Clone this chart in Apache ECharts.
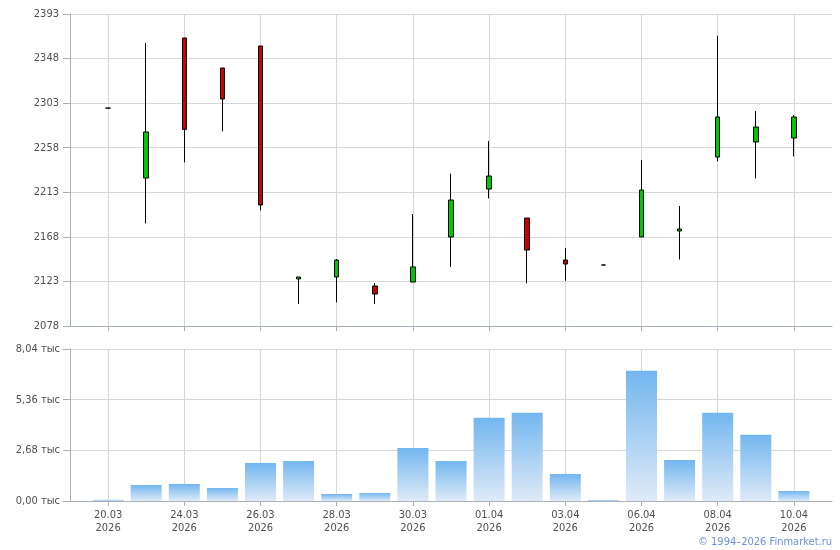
<!DOCTYPE html>
<html><head><meta charset="utf-8">
<script src="https://cdn.jsdelivr.net/npm/echarts@6/dist/echarts.min.js"></script>
<style>html,body{margin:0;padding:0;background:#fff}#c{width:840px;height:550px}</style>
</head><body><div id="c"></div>
<script>
const dates = ['20.03','23.03','24.03','25.03','26.03','27.03','28.03','29.03','30.03','31.03','01.04','02.04','03.04','04.04','06.04','07.04','08.04','09.04','10.04'];
const year = '2026';
const opens  = [2298,2227.4,2368.8,2338.5,2360.7,2125.5,2127.5,2118.4,2122.4,2167.9,2216.3,2187.0,2144.6,2139.6,2167.9,2173.9,2248.6,2263.8,2267.8];
const closes = [2298,2273.9,2276.5,2307.2,2200.2,2127.5,2144.6,2110.3,2137.6,2205.2,2229.4,2154.7,2140.6,2139.6,2215.3,2175.9,2289.0,2278.9,2289.0];
const lows   = [2298,2181.6,2243.2,2274.5,2194.7,2100.2,2101.8,2100.2,2122.4,2137.6,2206.8,2121.0,2123.7,2139.6,2167.9,2145.2,2244.2,2227.0,2249.2];
const highs  = [2298,2363.7,2368.8,2338.5,2360.7,2127.5,2145.6,2121.4,2191.1,2231.8,2264.8,2187.0,2156.7,2139.6,2245.6,2199.2,2371.1,2295.1,2291.0];
const volumes = [60,848,901,689,2014,2120,371,424,2809,2120,4399,4664,1431,53,6890,2173,4664,3498,530];
const priceTicks = [2078,2123,2168,2213,2258,2303,2348,2393];
const volumeTicks = [0,2680,5360,8040];

// pad one empty slot on each side
const cats = [''].concat(dates.map(d => d + '\n' + year), ['']);
const emptyCandle = ['-','-','-','-'];
const candleData = [emptyCandle].concat(dates.map((d, i) => [opens[i], closes[i], lows[i], highs[i]]), [emptyCandle]);
const volData = ['-'].concat(volumes, ['-']);

const font = '"DejaVu Sans Condensed", "DejaVu Sans", sans-serif';
const axisLineColor = '#a9b0b8';
const gridColor = '#d3d8de';
const labelColor = '#4f4f4f';
const oddIdx = (i) => i % 2 === 1;

const chart = echarts.init(document.getElementById('c'), null, {renderer: 'canvas'});
chart.setOption({
  animation: false,
  backgroundColor: '#fff',
  textStyle: {fontFamily: font},
  grid: [
    {left: 70, right: 8, top: 14, height: 312},
    {left: 70, right: 8, top: 349, height: 152}
  ],
  xAxis: [
    {type: 'category', gridIndex: 0, data: cats, boundaryGap: false,
     axisLine: {lineStyle: {color: axisLineColor}},
     axisTick: {show: true, interval: oddIdx, length: 5, lineStyle: {color: axisLineColor}},
     axisLabel: {show: false},
     splitLine: {show: true, interval: oddIdx, lineStyle: {color: gridColor}}},
    {type: 'category', gridIndex: 1, data: cats, boundaryGap: false,
     axisLine: {lineStyle: {color: axisLineColor}},
     axisTick: {show: true, interval: oddIdx, length: 5, lineStyle: {color: axisLineColor}},
     axisLabel: {show: true, interval: oddIdx, color: labelColor, fontSize: 11, fontFamily: font, lineHeight: 13, margin: 8},
     splitLine: {show: true, interval: oddIdx, lineStyle: {color: gridColor}}}
  ],
  yAxis: [
    {type: 'value', gridIndex: 0, min: priceTicks[0], max: priceTicks[priceTicks.length - 1],
     axisLine: {show: true, lineStyle: {color: axisLineColor}},
     axisTick: {show: true, length: 7, customValues: priceTicks, lineStyle: {color: axisLineColor}},
     axisLabel: {customValues: priceTicks, color: labelColor, fontSize: 11, fontFamily: font, margin: 11,
       formatter: v => String(v)},
     splitLine: {show: true, lineStyle: {color: gridColor}}},
    {type: 'value', gridIndex: 1, min: 0, max: volumeTicks[volumeTicks.length - 1], interval: 2680,
     axisLine: {show: true, lineStyle: {color: axisLineColor}},
     axisTick: {show: true, length: 7, lineStyle: {color: axisLineColor}},
     axisLabel: {color: labelColor, fontSize: 11, fontFamily: font, margin: 10,
       formatter: v => (v / 1000).toFixed(2).replace('.', ',') + ' тыс'},
     splitLine: {show: true, lineStyle: {color: gridColor}}}
  ],
  series: [
    {type: 'candlestick', xAxisIndex: 0, yAxisIndex: 0, data: candleData, barWidth: 5,
     itemStyle: {color: '#00c800', color0: '#cc0000', borderColor: '#000', borderColor0: '#000', borderWidth: 1}},
    {type: 'bar', xAxisIndex: 1, yAxisIndex: 1, data: volData, barWidth: 31,
     itemStyle: {color: new echarts.graphic.LinearGradient(0, 0, 0, 1, [
       {offset: 0, color: '#72b6ef'}, {offset: 1, color: '#dfeaf7'}])}}
  ],
  graphic: [
    {type: 'text', right: 8, top: 537,
     style: {text: '© 1994–2026 Finmarket.ru', fill: '#6d8fdc', font: '11px ' + font, textAlign: 'right'}}
  ]
});
</script>
</body></html>
